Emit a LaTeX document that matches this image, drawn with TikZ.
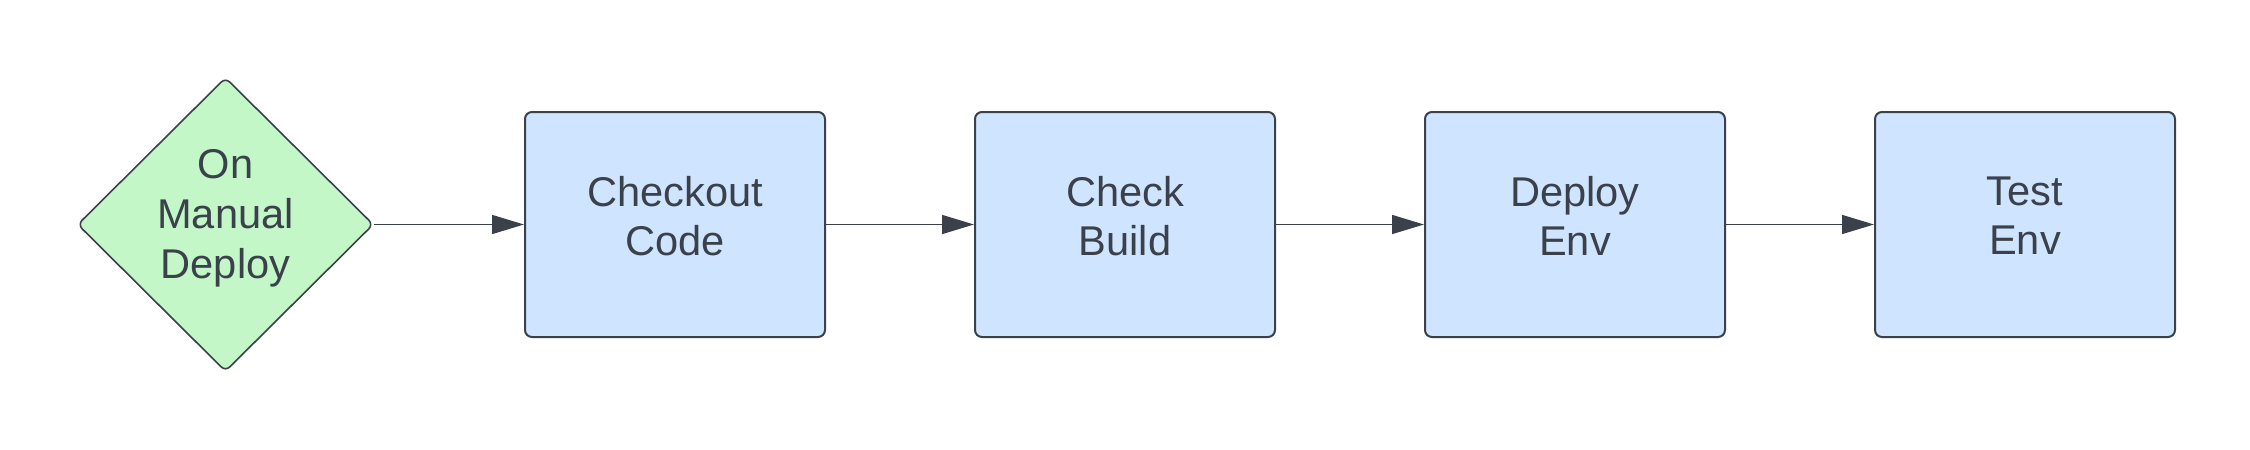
\documentclass[tikz,border=0pt]{standalone}
\usepackage{fontspec}
\setmainfont{Liberation Sans}
\usepackage{tikz}
\usetikzlibrary{shapes.geometric , arrows.meta}
\definecolor{edgegray}{HTML}{3A414A}
\definecolor{stageblue}{HTML}{CFE4FF}
\definecolor{triggergreen}{HTML}{C3F7C8}
\newcommand{\liftpad}[1]{\rule[-#1]{0pt}{0pt}}

\begin{document}
\begin{tikzpicture}[x = 0.5pt , y = -0.5pt ,
    stage/.style = {draw = edgegray , line width = 1pt , fill = stageblue , rounded corners = 3.5pt ,
        minimum width = 150pt , minimum height = 112.5pt , align = center , text = edgegray ,
        font = \fontsize{20.8}{24.5}\selectfont , execute at end node = \liftpad{8.5pt}},
    trigger/.style = {diamond , draw = edgegray , line width = 0.8pt , fill = triggergreen , rounded corners = 3pt ,
        minimum width = 148pt , minimum height = 147pt , inner sep = 0pt , align = center , text = edgegray ,
        font = \fontsize{20.8}{25}\selectfont , execute at end node = \liftpad{10.5pt}},
    flow/.style = {draw = edgegray , line width = 0.75pt , -{Triangle[length = 16pt , width = 9.5pt]}}]
    \useasboundingbox (0,0) rectangle (2250,450);
    \node[trigger] (manual) at (225.5,224.5) {On\\Manual\\Deploy}; % Εναρξη
    \node[stage] (checkout) at (675,224.5) {Checkout\\Code};
    \node[stage] (build) at (1125,224.5) {Check\\Build};
    \node[stage] (deploy) at (1575,224.5) {Deploy\\Env};
    \node[stage] (test) at (2025,224.5) {Test\\Env};
    \draw[flow] (manual.east) -- (checkout.west);
    \draw[flow] (checkout.east) -- (build.west);
    \draw[flow] (build.east) -- (deploy.west);
    \draw[flow] (deploy.east) -- (test.west);
\end{tikzpicture}
\end{document}
